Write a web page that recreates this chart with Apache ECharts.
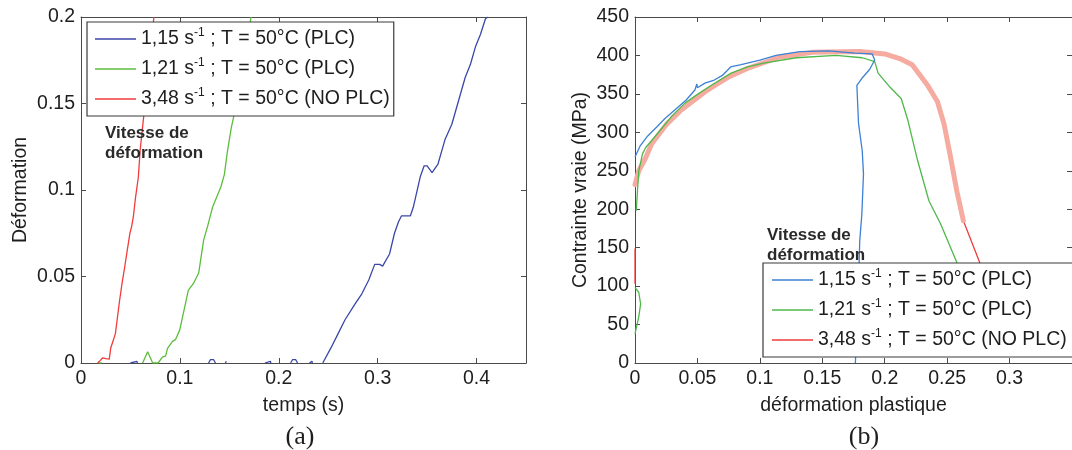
<!DOCTYPE html>
<html>
<head>
<meta charset="utf-8">
<script src="https://cdn.jsdelivr.net/npm/echarts@6.0.0/dist/echarts.min.js"></script>
<style>
  html, body { margin: 0; padding: 0; background: #fff; }
  #chart { width: 1072px; height: 450px; }
</style>
</head>
<body>
<div id="chart"></div>
<script>
// ---- legend labels ----
const rates = ['1,15', '1,21', '3,48'];
const regimes = ['PLC', 'PLC', 'NO PLC'];
const seriesNames = rates.map((r, i) => r + ' s-1 ; T = 50°C (' + regimes[i] + ')');

// ---- (a) strain vs. time ; null breaks the trace ----
const timeBlue = [0.05, 0.0505, 0.0565, 0.057, null, 0.129, 0.131, 0.134, 0.136, null, 0.146, 0.147, 0.148, null,
  0.186, 0.1865, 0.1915, 0.192, null, 0.212, 0.214, 0.217, 0.219, null, 0.231, 0.2315, 0.2335, 0.234, null,
  0.2445, 0.253, 0.26, 0.267, 0.277, 0.284, 0.291, 0.297, 0.302, 0.305, 0.312, 0.317, 0.321, 0.324, 0.333,
  0.336, 0.343, 0.347, 0.350, 0.355, 0.361, 0.368, 0.375, 0.382, 0.3885, 0.394, 0.399, 0.404, 0.409, 0.4115];
const strainBlue = [0, 0.001, 0.001, 0, null, 0, 0.002, 0.002, 0, null, 0, 0.001, 0, null,
  0, 0.001, 0.001, 0, null, 0, 0.002, 0.002, 0, null, 0, 0.001, 0.001, 0, null,
  0, 0.009, 0.017, 0.025, 0.034, 0.04, 0.048, 0.057, 0.057, 0.056, 0.063, 0.075, 0.0815, 0.085, 0.085,
  0.09, 0.1075, 0.114, 0.114, 0.11, 0.115, 0.129, 0.138, 0.152, 0.165, 0.173, 0.183, 0.19, 0.199, 0.2];

const timeGreen = [0.0175, 0.019, 0.021, null, 0.0623, 0.0674, 0.0725, 0.078, 0.0825, 0.0855, 0.0875, 0.0925,
  0.0955, 0.0998, 0.104, 0.1085, 0.1137, 0.119, 0.124, 0.128, 0.133, 0.1416, 0.145, 0.148, 0.152, 0.155,
  0.16, 0.166, 0.172];
const strainGreen = [0, 0.001, 0, null, 0, 0.0065, 0, 0, 0.0035, 0.004, 0.0085, 0.0125,
  0.0135, 0.019, 0.03, 0.042, 0.046, 0.052, 0.071, 0.079, 0.09, 0.102, 0.109, 0.122, 0.136, 0.144,
  0.158, 0.18, 0.2];

const timeRed = [0.0168, 0.019, 0.022, 0.025, 0.0286, 0.030, 0.032, 0.0348, 0.037, 0.039, 0.0415, 0.0442,
  0.047, 0.0494, 0.0512, 0.0529, 0.055, 0.058, 0.0598, 0.0633, 0.067, 0.0705, 0.0737];
const strainRed = [0, 0.0012, 0.003, 0.0025, 0.0022, 0.0085, 0.012, 0.017, 0.027, 0.036, 0.046, 0.0555,
  0.066, 0.0748, 0.079, 0.0844, 0.095, 0.1075, 0.123, 0.142, 0.16, 0.18, 0.2];

// ---- (b) true stress vs. plastic strain ----
const plasticBlue = [0, 0.004, 0.01, 0.018, 0.024, 0.0346, 0.041, 0.048, 0.0495, 0.05, 0.056, 0.0635, 0.07,
  0.0766, 0.085, 0.1, 0.113, 0.132, 0.155, 0.176, 0.19, 0.192, 0.188, 0.1816, 0.1777, 0.179, 0.182, 0.183,
  0.1817, 0.18, 0.1795, 0.178, 0.1765];
const stressBlue = [268, 282, 295, 308, 318, 333, 342, 355, 363, 358, 364, 368, 374,
  385, 388, 394, 400, 405, 406, 403, 402, 394, 382, 370, 361, 312, 276, 246,
  194, 159, 131, 60, 0];

const plasticGreen = [0, 0.003, 0.0045, 0.003, 0, null, 0.001, 0.002, 0.003, 0.006, 0.0085, 0.0204, 0.03,
  0.04, 0.0497, 0.06, 0.077, 0.09, 0.103, 0.129, 0.161, 0.182, 0.192, 0.1947, 0.2035, 0.2132, 0.2185,
  0.2264, 0.2354, 0.2447, 0.2577, 0.268, 0.28];
const stressGreen = [38, 60, 77, 92, 98, null, 198, 224, 250, 272, 280, 303, 322,
  338, 349, 360, 377, 385, 390, 397, 400, 397, 392, 377, 360, 344, 316,
  263, 211, 181, 131, 100, 60];

const plasticRed = [0, 0, null, 0, 0.003, 0.008, 0.0134, 0.025, 0.037, 0.058, 0.075, 0.09, 0.116, 0.142,
  0.18, 0.2, 0.212, 0.222, 0.234, 0.2422, 0.2475, 0.2527, 0.2577, 0.263, 0.276, 0.29];
const stressRed = [103, 149, null, 232, 250, 265, 285, 310, 329, 355, 372, 383, 398, 404,
  405, 402, 396, 388, 362, 340, 311, 268, 224, 185, 131, 80];
// stretch of the 3,48 s-1 trace that prints as a wide pale stroke
const redHaloRange = [3, 23];

const FONT = '"Liberation Sans", Arial, Helvetica, sans-serif';
const AXIS_COLOR = '#4a4a4a';
const TEXT_COLOR = '#1e1e1e';

const colorsA = ['#3b47a8', '#5cbd3c', '#f23b3b'];
const colorsB = ['#3d80d6', '#4fb84a', '#ee3b3b'];
const haloColor = '#f5ab9f';

function pairs(xs, ys) {
  return xs.map((x, i) => (x === null || ys[i] === null) ? [null, null] : [x, ys[i]]);
}

function axis(opts) {
  const base = {
    type: 'value',
    splitLine: { show: false },
    axisLine: { show: true, onZero: false, lineStyle: { color: AXIS_COLOR, width: 1 } },
    axisTick: { show: true, inside: true, length: 5, lineStyle: { color: AXIS_COLOR } },
    axisLabel: { show: true, color: TEXT_COLOR, fontSize: 19.5, fontFamily: FONT, margin: 6 },
    nameTextStyle: { color: TEXT_COLOR, fontSize: 19.5, fontFamily: FONT },
    nameLocation: 'middle'
  };
  const out = Object.assign({}, base, opts);
  if (opts.axisLabel) out.axisLabel = Object.assign({}, base.axisLabel, opts.axisLabel);
  return out;
}

const lineBase = { type: 'line', symbol: 'none', showSymbol: false, animation: false, connectNulls: false, silent: true };

// framed legend: thin colour stroke + label with a superscript exponent
function legendFor(colors, left, top, padding) {
  return {
    show: true,
    left: left, top: top, orient: 'vertical', selectedMode: false,
    backgroundColor: '#fff', borderColor: '#3a3a3a', borderWidth: 1.2, borderRadius: 0,
    padding: padding, itemGap: 6, itemWidth: 41, itemHeight: 1.4, icon: 'rect',
    data: seriesNames.map((n, i) => ({ name: n, icon: 'rect', itemStyle: { color: colors[i], borderWidth: 0 } })),
    formatter: n => n.replace('s-1', 's{sup|-1}'),
    textStyle: {
      color: TEXT_COLOR, fontSize: 19.5, fontFamily: FONT, lineHeight: 24,
      rich: { sup: { fontSize: 12, fontFamily: FONT, color: TEXT_COLOR, verticalAlign: 'top', lineHeight: 13 } }
    },
    z: 10
  };
}

const chart = echarts.init(document.getElementById('chart'), null, { renderer: 'canvas' });

chart.setOption({
  backgroundColor: '#fff',
  animation: false,
  grid: [
    { left: 81, top: 17, width: 445, height: 346 },
    { left: 635, top: 17, width: 448, height: 346 }
  ],
  xAxis: [
    axis({ gridIndex: 0, position: 'bottom', min: 0, max: 0.45, interval: 0.1, name: 'temps (s)', nameGap: 33,
      axisLabel: { showMaxLabel: false } }),
    axis({ gridIndex: 0, position: 'top', min: 0, max: 0.45, interval: 0.1, axisLabel: { show: false } }),
    axis({ gridIndex: 1, position: 'bottom', min: 0, max: 0.35, interval: 0.05, name: 'déformation plastique', nameGap: 33,
      axisLabel: { showMaxLabel: false } }),
    axis({ gridIndex: 1, position: 'top', min: 0, max: 0.35, interval: 0.05, axisLabel: { show: false } })
  ],
  yAxis: [
    axis({ gridIndex: 0, position: 'left', min: 0, max: 0.2, interval: 0.05, name: 'Déformation', nameGap: 50 }),
    axis({ gridIndex: 0, position: 'right', min: 0, max: 0.2, interval: 0.05, axisLabel: { show: false } }),
    axis({ gridIndex: 1, position: 'left', min: 0, max: 450, interval: 50, name: 'Contrainte vraie (MPa)', nameGap: 44 }),
    axis({ gridIndex: 1, position: 'right', min: 0, max: 450, interval: 50, axisLabel: { show: false } })
  ],
  legend: [
    legendFor(colorsA, 87, 22, [5, 4, 5, 8]),
    legendFor(colorsB, 763, 263, [5, 12, 5, 9])
  ],
  series: [
    // (a)
    Object.assign({}, lineBase, { name: seriesNames[0], xAxisIndex: 0, yAxisIndex: 0, data: pairs(timeBlue, strainBlue),
      lineStyle: { color: colorsA[0], width: 1.3 }, itemStyle: { color: colorsA[0] } }),
    Object.assign({}, lineBase, { name: seriesNames[1], xAxisIndex: 0, yAxisIndex: 0, data: pairs(timeGreen, strainGreen),
      lineStyle: { color: colorsA[1], width: 1.3 }, itemStyle: { color: colorsA[1] } }),
    Object.assign({}, lineBase, { name: seriesNames[2], xAxisIndex: 0, yAxisIndex: 0, data: pairs(timeRed, strainRed),
      lineStyle: { color: colorsA[2], width: 1.3 }, itemStyle: { color: colorsA[2] } }),
    // (b)
    Object.assign({}, lineBase, { name: seriesNames[2], xAxisIndex: 2, yAxisIndex: 2, data: pairs(plasticRed, stressRed),
      lineStyle: { color: colorsB[2], width: 1.3 }, itemStyle: { color: colorsB[2] } }),
    Object.assign({}, lineBase, { name: 'halo', xAxisIndex: 2, yAxisIndex: 2,
      data: pairs(plasticRed.slice(redHaloRange[0], redHaloRange[1] + 1), stressRed.slice(redHaloRange[0], redHaloRange[1] + 1)),
      lineStyle: { color: haloColor, width: 5, cap: 'round', join: 'round' }, itemStyle: { color: haloColor } }),
    Object.assign({}, lineBase, { name: seriesNames[1], xAxisIndex: 2, yAxisIndex: 2, data: pairs(plasticGreen, stressGreen),
      lineStyle: { color: colorsB[1], width: 1.3 }, itemStyle: { color: colorsB[1] } }),
    Object.assign({}, lineBase, { name: seriesNames[0], xAxisIndex: 2, yAxisIndex: 2, data: pairs(plasticBlue, stressBlue),
      lineStyle: { color: colorsB[0], width: 1.3 }, itemStyle: { color: colorsB[0] } })
  ],
  graphic: [
    { type: 'text', x: 105, y: 123, z: 20, style: { text: 'Vitesse de\ndéformation', fontFamily: FONT, fontWeight: 'bold',
      fontSize: 17, lineHeight: 20, fill: '#2a2a2a', align: 'left', verticalAlign: 'top' } },
    { type: 'text', x: 767, y: 225, z: 20, style: { text: 'Vitesse de\ndéformation', fontFamily: FONT, fontWeight: 'bold',
      fontSize: 17, lineHeight: 20, fill: '#2a2a2a', align: 'left', verticalAlign: 'top' } },
    { type: 'text', x: 300, y: 437, z: 20, style: { text: '(a)', fontFamily: '"Liberation Serif", "Times New Roman", serif',
      fontSize: 26, fill: '#1e1e1e', align: 'center', verticalAlign: 'middle' } },
    { type: 'text', x: 864, y: 437, z: 20, style: { text: '(b)', fontFamily: '"Liberation Serif", "Times New Roman", serif',
      fontSize: 26, fill: '#1e1e1e', align: 'center', verticalAlign: 'middle' } }
  ]
});
</script>
</body>
</html>
